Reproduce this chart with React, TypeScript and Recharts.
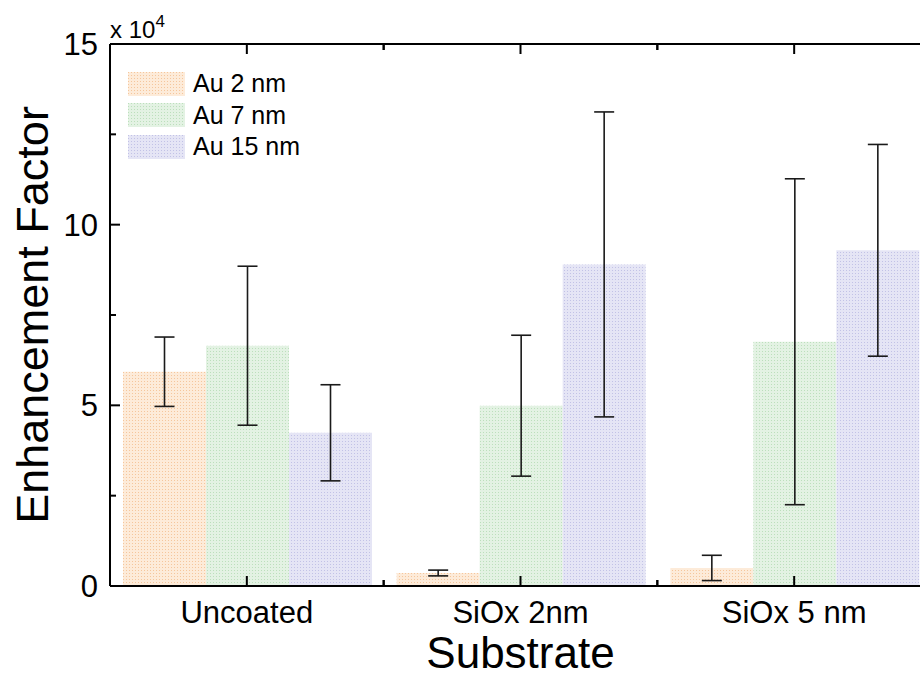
import React from "react";
import { BarChart, Bar, XAxis, YAxis, ErrorBar, Legend } from "recharts";

// values in units of 10^4
const substrates = ["Uncoated", "SiOx 2nm", "SiOx 5 nm"];
const au2 = [5.93, 0.36, 0.5];
const au2Err = [0.96, 0.08, 0.35];
const au7 = [6.65, 4.99, 6.76];
const au7Err = [2.2, 1.95, 4.51];
const au15 = [4.24, 8.9, 9.29];
const au15Err = [1.33, 4.22, 2.93];
const yTicks = [0, 2.5, 5, 7.5, 10, 12.5, 15];

const data = substrates.map((name, i) => ({
  name,
  au2: au2[i],
  au2Err: au2Err[i],
  au7: au7[i],
  au7Err: au7Err[i],
  au15: au15[i],
  au15Err: au15Err[i],
}));

const series = [
  { key: "au2", err: "au2Err", label: "Au 2 nm", base: "#fdebd9", dot: "#f5c69c", id: "patAu2" },
  { key: "au7", err: "au7Err", label: "Au 7 nm", base: "#e3f2e3", dot: "#bcdfbc", id: "patAu7" },
  { key: "au15", err: "au15Err", label: "Au 15 nm", base: "#e5e5f5", dot: "#c2c2e6", id: "patAu15" },
];

const FONT = "'Liberation Sans', Arial, sans-serif";

function Dots({ id, base, dot }: { id: string; base: string; dot: string }) {
  return (
    <pattern id={id} width={3} height={3} patternUnits="userSpaceOnUse">
      <rect width={3} height={3} fill={base} />
      <rect x={0} y={0} width={1} height={1} fill={dot} />
    </pattern>
  );
}

function YTick(props: any) {
  const { x, y, payload } = props;
  const major = payload.value % 5 === 0;
  return (
    <g>
      <line x1={x} x2={x + (major ? 10 : 6)} y1={y} y2={y} stroke="#000" strokeWidth={2} />
      {major && (
        <text x={x - 12} y={y} dy={11} textAnchor="end" fontSize={31} fill="#000">
          {payload.value}
        </text>
      )}
    </g>
  );
}

function XTick(props: any) {
  const { x, y, payload, top } = props;
  const dir = top ? 1 : -1;
  const half = payload.offset || 0;
  return (
    <g>
      <line x1={x} x2={x} y1={y} y2={y + dir * 10} stroke="#000" strokeWidth={2} />
      {half > 0 && (
        <>
          <line x1={x - half} x2={x - half} y1={y} y2={y + dir * 6} stroke="#000" strokeWidth={2} />
          <line x1={x + half} x2={x + half} y1={y} y2={y + dir * 6} stroke="#000" strokeWidth={2} />
        </>
      )}
      {!top && (
        <text x={x} y={y + 37} textAnchor="middle" fontSize={31} fill="#000">
          {payload.value}
        </text>
      )}
    </g>
  );
}

function YTitle(props: any) {
  const { viewBox } = props;
  const cx = viewBox.x + 48;
  const cy = viewBox.y + viewBox.height / 2;
  return (
    <g>
      <text x={cx} y={cy} transform={`rotate(-90, ${cx}, ${cy})`} textAnchor="middle" fontSize={45} fill="#000">
        Enhancement Factor
      </text>
      <text x={viewBox.x + viewBox.width} y={viewBox.y - 6} fontSize={24} fill="#000">
        x 10
        <tspan dy={-11} fontSize={17}>4</tspan>
      </text>
    </g>
  );
}

function LegendBox() {
  return (
    <div style={{ fontFamily: FONT }}>
      {series.map((s) => (
        <div key={s.key} style={{ display: "flex", alignItems: "center", height: 31.5 }}>
          <svg width={57} height={24} style={{ display: "block" }}>
            <defs>
              <Dots id={`lg-${s.id}`} base={s.base} dot={s.dot} />
            </defs>
            <rect width={57} height={24} fill={`url(#lg-${s.id})`} />
          </svg>
          <span style={{ marginLeft: 8, fontSize: 25, lineHeight: "25px", color: "#000" }}>{s.label}</span>
        </div>
      ))}
    </div>
  );
}

export default function App() {
  return (
    <div
      style={{
        position: "fixed",
        left: 0,
        top: 0,
        width: 920,
        height: 680,
        overflow: "hidden",
        background: "#fff",
        fontFamily: FONT,
      }}
    >
      <BarChart
        width={931}
        height={680}
        data={data}
        margin={{ top: 43, right: 0, left: 0, bottom: 0 }}
        barGap={0}
        barCategoryGap={13}
      >
        <defs>
          {series.map((s) => (
            <Dots key={s.id} id={s.id} base={s.base} dot={s.dot} />
          ))}
        </defs>
        <XAxis
          dataKey="name"
          height={94}
          axisLine={{ stroke: "#000", strokeWidth: 2 }}
          tickLine={false}
          tickSize={0}
          tickMargin={0}
          interval={0}
          tick={<XTick />}
          label={(p: any) => (
            <text
              x={p.viewBox.x + p.viewBox.width / 2}
              y={p.viewBox.y + p.viewBox.height - 12}
              textAnchor="middle"
              fontSize={44}
              fill="#000"
            >
              Substrate
            </text>
          )}
        />
        <XAxis
          xAxisId="top"
          dataKey="name"
          orientation="top"
          height={1}
          axisLine={{ stroke: "#000", strokeWidth: 2 }}
          tickLine={false}
          tickSize={0}
          tickMargin={0}
          interval={0}
          tick={<XTick top />}
        />
        <YAxis
          width={110}
          domain={[0, 15]}
          ticks={yTicks}
          interval={0}
          allowDataOverflow
          axisLine={{ stroke: "#000", strokeWidth: 2 }}
          tickLine={false}
          tickSize={0}
          tickMargin={0}
          tick={<YTick />}
          label={(p: any) => <YTitle {...p} />}
        />
        <Legend
          layout="vertical"
          align="center"
          verticalAlign="middle"
          wrapperStyle={{ left: 128, top: 68, width: 200, height: 95 }}
          content={() => <LegendBox />}
        />
        {series.map((s) => (
          <Bar key={s.key} dataKey={s.key} fill={`url(#${s.id})`} isAnimationActive={false}>
            <ErrorBar dataKey={s.err} width={10} stroke="#1a1a1a" strokeWidth={1.6} />
          </Bar>
        ))}
      </BarChart>
    </div>
  );
}
